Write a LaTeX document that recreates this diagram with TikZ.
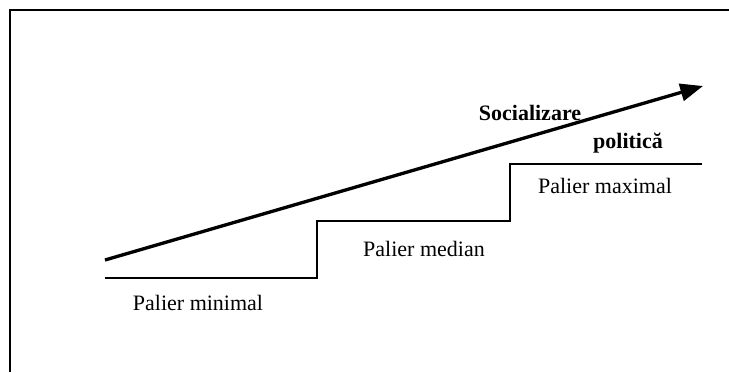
\documentclass[tikz,border=0pt]{standalone}
\usepackage{fontspec}
\setmainfont{Liberation Serif}
\usetikzlibrary{arrows.meta}
\begin{document}
\begin{tikzpicture}[x=0.75pt,y=-0.75pt,line width=2pt,
	lbl/.style={inner sep=1.5pt,font=\fontsize{16.5}{19}\selectfont},
	titlu/.style={lbl,font=\fontsize{16.5}{19}\selectfont\bfseries}]
	\useasboundingbox (0,0) rectangle (729,372);
	% frame
	\draw (10,372) -- (10,10) -- (729,10);
	% steps
	\draw (105,278) -- (317,278) -- (317,221) -- (510,221) -- (510,164) -- (702,164);
	\coordinate (s) at (105,260);
	\coordinate (t) at (703,86);
	\draw [line width=2.5pt,-{Triangle[length=17pt,width=13pt]}] (s) -- (t);
	\node [titlu] (soc) at (530,113) {Socializare};
	\node [titlu] (pol) at (628,143) {politică};
	\foreach \n/\x/\y/\z in {p1/198/303/minimal, p2/424/249/median, p3/605/186/maximal}
	{
		\node [lbl] (\n) at (\x,\y) {Palier \z};
	}
\end{tikzpicture}
\end{document}
